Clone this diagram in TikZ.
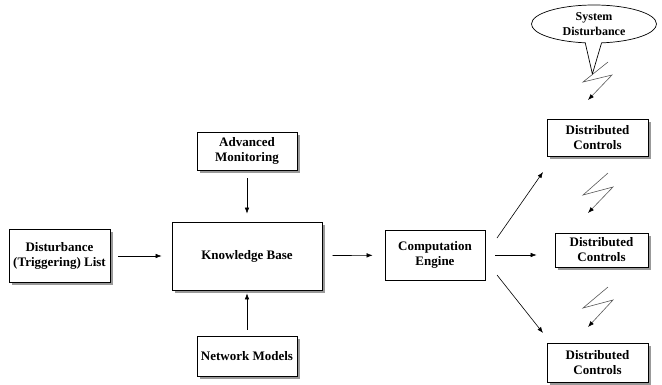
\documentclass[tikz,border=0pt]{standalone}
\usepackage{fontspec}
\setmainfont{Liberation Serif}
\usetikzlibrary{shapes.callouts}
\usetikzlibrary{shadows}
\usetikzlibrary{arrows.meta}

\begin{document}
\begin{tikzpicture}[x=1pt,y=-1pt,
		box/.style={draw, fill=white, line width=0.7pt, align=center, inner sep=1pt,
			font=\fontsize{13}{15}\selectfont\bfseries},
		shbox/.style={box, drop shadow={shadow xshift=2.5pt, shadow yshift=-2.5pt, fill=gray!80, opacity=1}},
		arr/.style={-{Latex[length=6pt,width=4.5pt]}, line width=0.6pt},
		bolt/.style={gray!70!black, line width=0.6pt, -{Latex[length=6pt,width=4.5pt,color=black]}}]
		\useasboundingbox (0,0) rectangle (662,384);

		% main chain
		\node[shbox, minimum width=101pt, minimum height=53pt] (dlist) at (59.5,256) {Disturbance\\(Triggering) List};
		\node[shbox, minimum width=150pt, minimum height=68pt] (kbase) at (247,256) {Knowledge Base};
		\node[shbox, minimum width=100pt, minimum height=38pt] (amon) at (247,151) {Advanced\\Monitoring};
		\node[shbox, minimum width=100pt, minimum height=40pt] (nmod) at (247,356) {Network Models};
		\node[box, minimum width=100pt, minimum height=50pt] (ceng) at (435,255) {Computation\\Engine};

		% controls
		\node[shbox, minimum width=101pt, minimum height=37pt] (dctop) at (597.5,137.5) {Distributed\\Controls};
		\node[shbox, minimum width=93pt, minimum height=34pt] (dcmid) at (601.5,250) {Distributed\\Controls};
		\node[shbox, minimum width=101pt, minimum height=39pt] (dcbot) at (597.5,362.5) {Distributed\\Controls};

		% callout
		\node[draw, fill=white, ellipse callout, line width=0.7pt, inner sep=0pt, align=center,
			minimum width=125pt, minimum height=38pt, callout relative pointer={(-1pt,-31pt)},
			font=\fontsize{12}{15}\selectfont\bfseries] (sysd) at (594,24) {System\\Disturbance};

		\draw[arr, shorten <=8pt, shorten >=10pt] (dlist) -- (kbase);
		\draw[arr, shorten <=8pt, shorten >=8pt] (amon) -- (kbase);
		\draw[arr, shorten <=6pt, shorten >=3pt] (nmod) -- (kbase);
		\draw[arr, shorten <=10pt, shorten >=12pt] (kbase) -- (ceng);
		\draw[arr, shorten <=10pt, shorten >=18pt] (ceng.east) -- (ceng.east -| dcmid.west);

		\coordinate (up0) at (497,238);
		\coordinate (up1) at (543,172);
		\coordinate (dn0) at (497,275);
		\coordinate (dn1) at (543,333);
		\draw[arr] (up0) -- (up1);
		\draw[arr] (dn0) -- (dn1);

		% bolts
		\draw[bolt] (608,62) -- (583,82) -- (612,75) -- (588,100);
		\draw[bolt] (608,173) -- (583,195) -- (613,187) -- (588,213);
		\draw[bolt] (608,287) -- (583,308) -- (613,300) -- (588,327);
	\end{tikzpicture}
\end{document}
